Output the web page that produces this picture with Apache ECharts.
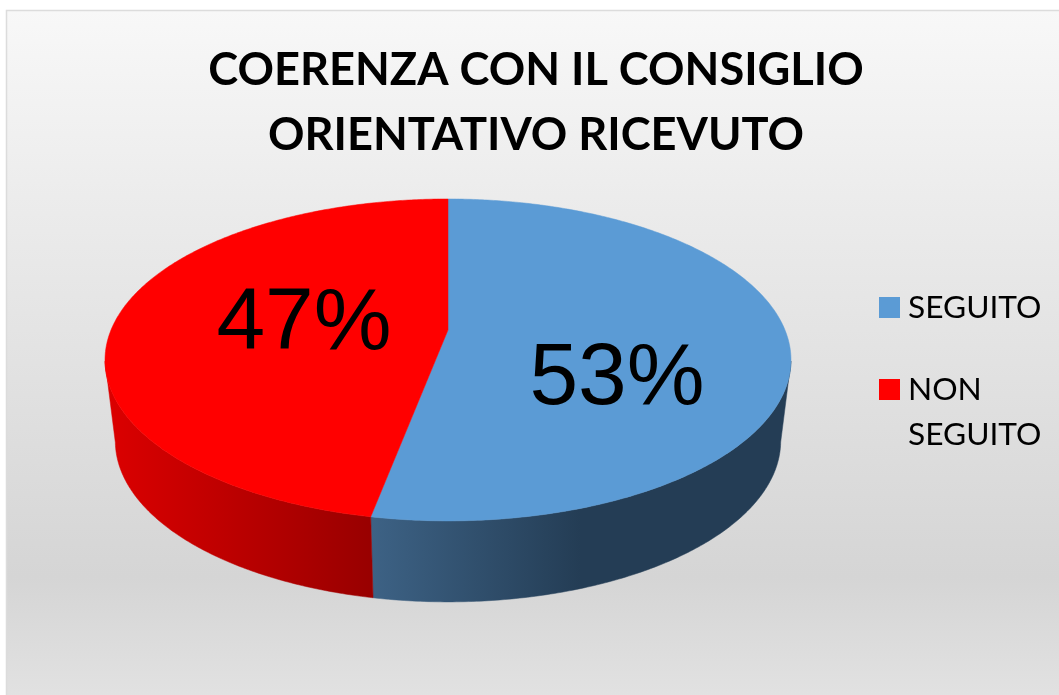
<!DOCTYPE html>
<html>
<head>
<meta charset="utf-8">
<style>html,body{margin:0;padding:0;background:#fff}#c{width:1059px;height:695px}</style>
<script src="https://cdn.jsdelivr.net/npm/echarts@6/dist/echarts.min.js"></script>
</head>
<body>
<div id="c"></div>
<script>
const categories = ['SEGUITO', 'NON SEGUITO'];
const values = [53, 47];
const titleText = 'COERENZA CON IL CONSIGLIO\nORIENTATIVO RICEVUTO';

// Projection of the tilted disc (layout only)
const P = {cx: 448, cy: 330, rx: 337, ry: 155.4, k: 0.186, depth: 81, shrink: 0.97};
const topColors = ['#5b9bd5', '#ff0000'];
const wallStops = [
  [{offset: 0, color: '#3d6285'}, {offset: 0.5, color: '#243d55'}, {offset: 1, color: '#243d55'}],
  [{offset: 0, color: '#dc0000'}, {offset: 1, color: '#980000'}]
];
const wallSpan = [[371, 790], [106, 373]];
const labelPos = [[617, 380], [304, 325]];

const total = values.reduce((a, b) => a + b, 0);

function rim(theta) {
  const u = Math.sin(theta), v = -Math.cos(theta), w = 1 - P.k * v;
  return {x: P.cx + P.rx * u / w, y: P.cy + P.ry * v / w, v};
}
function arc(a0, a1) {
  const n = Math.max(2, Math.ceil((a1 - a0) / 0.01)), pts = [];
  for (let i = 0; i <= n; i++) pts.push(rim(a0 + (a1 - a0) * i / n));
  return pts;
}
function makeRender(idx) {
  const before = values.slice(0, idx).reduce((a, b) => a + b, 0);
  return function (params, api) {
    const val = api.value(0);
    const a0 = before / total * 2 * Math.PI, a1 = (before + val) / total * 2 * Math.PI;
    const pts = arc(a0, a1);
    const wallTop = pts.filter(p => p.v >= P.k);
    const children = [];
    if (wallTop.length > 1) {
      const low = wallTop.slice().reverse().map(p => [P.cx + (p.x - P.cx) * P.shrink, p.y + P.depth]);
      const up = wallTop.map(p => [p.x, p.y]);
      const s = wallSpan[idx];
      const g = new echarts.graphic.LinearGradient(s[0], 0, s[1], 0, wallStops[idx], true);
      children.push({type: 'polygon', shape: {points: up.concat(low)},
        style: {fill: g, stroke: g, lineWidth: 0.5}});
    }
    const sector = [[P.cx, P.cy]].concat(pts.map(p => [p.x, p.y]));
    children.push({type: 'polygon', shape: {points: sector},
      style: {fill: topColors[idx], stroke: topColors[idx], lineWidth: 0.5}});
    children.push({type: 'text', z2: 10, style: {
      x: labelPos[idx][0], y: labelPos[idx][1], text: val + '%',
      fill: '#000', font: '87.5px "Liberation Sans"', align: 'center', verticalAlign: 'middle'}});
    return {type: 'group', children};
  };
}

const chart = echarts.init(document.getElementById('c'), null, {renderer: 'canvas'});
chart.setOption({
  animation: false,
  backgroundColor: '#fff',
  title: {
    text: titleText, left: 531, top: 33, textAlign: 'center',
    textStyle: {fontFamily: 'Lato', fontWeight: 'bold', fontSize: 45.2, lineHeight: 65, color: '#000'}
  },
  legend: [
    {data: [categories[0]], left: 879, top: 282, padding: 0, orient: 'vertical', icon: 'rect',
     itemWidth: 21, itemHeight: 21, itemGap: 0, selectedMode: false,
     textStyle: {fontFamily: 'Lato', fontSize: 31.7, lineHeight: 45, color: '#000', padding: [6, 0, 0, 3]}},
    {data: [categories[1]], left: 879, top: 318, padding: 0, orient: 'vertical', icon: 'rect',
     itemWidth: 21, itemHeight: 21, itemGap: 0, selectedMode: false,
     formatter: n => '\n' + n.replace(' ', '\n'),
     textStyle: {fontFamily: 'Lato', fontSize: 31.7, lineHeight: 45, color: '#000', padding: [8, 0, 0, 3]}}
  ],
  graphic: [{
    type: 'rect', z: -10, silent: true,
    shape: {x: 6.5, y: 10.5, width: 1060, height: 690},
    style: {
      fill: new echarts.graphic.LinearGradient(0, 0, 0, 1, [
        {offset: 0, color: '#f8f8f8'}, {offset: 0.27, color: '#ececec'},
        {offset: 0.82, color: '#d5d5d5'}, {offset: 1, color: '#e2e2e2'}]),
      stroke: '#dcdcdc', lineWidth: 1.5
    }
  }],
  series: categories.map((name, i) => ({
    type: 'custom', name, coordinateSystem: 'none', silent: true,
    itemStyle: {color: topColors[i]},
    data: [values[i]],
    renderItem: makeRender(i)
  }))
});
</script>
</body>
</html>
